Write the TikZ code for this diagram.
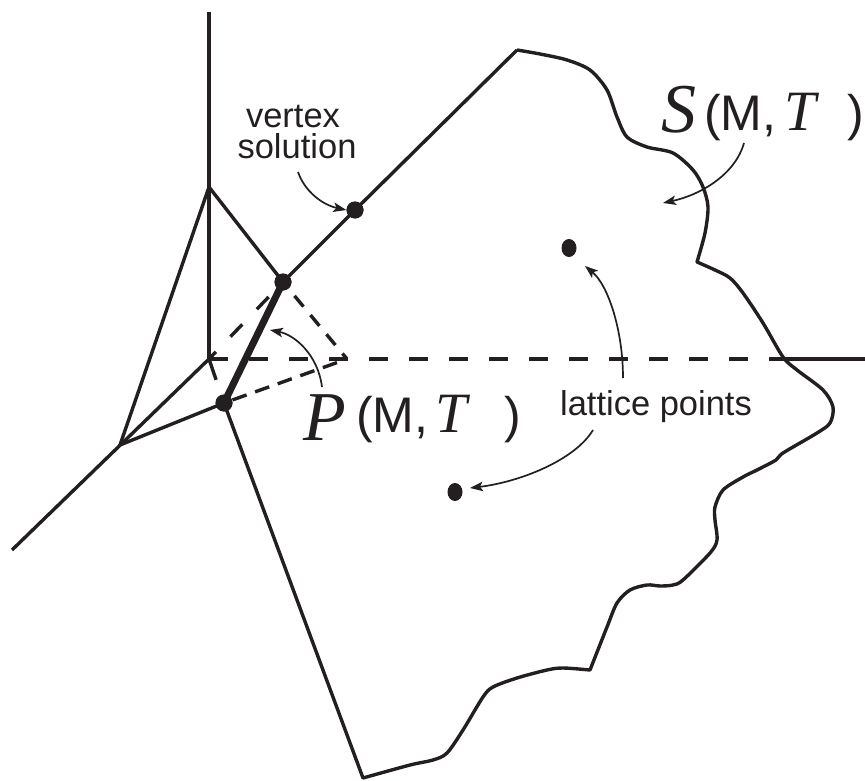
\documentclass[tikz,border=0pt]{standalone}
\usepackage{fontspec}
\setmainfont{Liberation Sans}
\newfontfamily\tmsfont{Liberation Serif}
\usetikzlibrary{arrows.meta,shapes.geometric}
\definecolor{ink}{RGB}{35,31,32}
\begin{document}
\begin{tikzpicture}[x=1pt,y=-1pt,
  ln/.style={line width=3.4pt, draw=ink},
  thickedge/.style={line width=7pt, draw=ink},
  hid/.style={line width=3.4pt, draw=ink},
  arr/.style={line width=1.7pt, draw=ink, -{Stealth[length=13pt,width=9.5pt,inset=3pt]}},
  dot/.style={circle, fill=ink, inner sep=0pt, minimum size=17pt},
  ldot/.style={ellipse, fill=ink, inner sep=0pt, minimum width=15pt, minimum height=18pt},
  lbl/.style={inner sep=0pt, text=ink, font=\fontsize{34.5}{34.5}\selectfont},
  mlbl/.style={inner sep=0pt, text=ink, font=\fontsize{50}{50}\selectfont},
  biglbl/.style={inner sep=0pt, text=ink, font=\fontsize{70}{70}\selectfont\tmsfont\itshape},
  tlbl/.style={inner sep=0pt, text=ink, font=\fontsize{57}{57}\selectfont\tmsfont\itshape}
]
\useasboundingbox (0,0) rectangle (865,781);

% coordinates
\coordinate (Ztop) at (209,12);
\coordinate (O) at (209,359);
\coordinate (Yend) at (12,550);
\coordinate (C) at (120,445);
\coordinate (A) at (209,187);
\coordinate (F) at (347,359);
\coordinate (Xb) at (783,359);
\coordinate (Xend) at (865,359);
\coordinate (T0) at (517,50);
\coordinate (B0) at (363,778);

% dots (nodes)
\node[dot] (E) at (283,282) {};
\node[dot] (D) at (224,403) {};
\node[dot] (V) at (355,210) {};
\node[ldot] (L1) at (569,248) {};
\node[ldot] (L2) at (455,492) {};

% hidden (dashed) edges
\draw[hid, dash pattern=on 19pt off 21pt] (O) -- (Xb);
\draw[hid, dash pattern=on 22pt off 20pt] (O) -- (D.center);
\draw[hid, dash pattern=on 17pt off 21pt, dash phase=7pt] (O) -- (E.center);
\draw[hid, dash pattern=on 14pt off 11pt, dash phase=7pt] (E.center) -- (F);
\draw[hid, dash pattern=on 15pt off 9pt, dash phase=15pt] (D.center) -- (F);

% axes and solid edges
\draw[ln] (Ztop) -- (O);
\draw[ln] (Yend) -- (O);
\draw[ln] (Xb) -- (Xend);
\draw[ln] (A) -- (C) -- (D.center);
\draw[ln] (A) -- (E.center) -- (V.center) -- (T0);

% wavy boundary of S(M,T)
\draw[ln, line join=round]
  plot[smooth] coordinates {(517,50) (540,54) (567,60) (590,70) (607,90) (617,117) (627,137) (647,147) (673,153) (693,170) (703,187) (708,207) (705,233) (697,262)}
  -- plot[smooth] coordinates {(697,262) (715,270) (730,278) (743,293) (763,323) (783,357) (797,370) (823,390) (833,407) (830,423) (817,433) (783,453) (776,460) (757,470) (743,477) (723,490) (715,507) (715,520) (717,540) (710,553) (683,580) (673,585) (660,586) (647,585) (630,590) (617,603) (607,627) (590,670)}
  -- plot[smooth] coordinates {(590,670) (563,668) (547,670) (517,678) (493,687) (483,697) (463,730) (447,753) (433,760) (410,765) (363,778)}
  -- (D.center);

% thick edge P(M,T)
\draw[thickedge] (D.center) -- (E.center);

% redraw dots on top
\fill[ink] (E) circle (8.5pt);
\fill[ink] (D) circle (8.5pt);
\fill[ink] (V) circle (8.5pt);

% labels
\node[lbl, anchor=base] (vx) at (293,128) {vertex};
\node[lbl, anchor=base] (sol) at (297,159) {solution};
\node[lbl, anchor=base] (lat) at (656,415) {lattice points};

\node[biglbl, anchor=base west] (S) at (661,133) {S};
\node[mlbl, anchor=base west] (SM) at (704,131) {(M,};
\node[tlbl, anchor=base west] (ST) at (784,131) {T};
\node[mlbl, anchor=base west] (SR) at (847,131) {)};

\node[biglbl, anchor=base west] (P) at (303,440) {P};
\node[mlbl, anchor=base west] (PM) at (356,432) {(M,};
\node[tlbl, anchor=base west] (PT) at (435,432) {T};
\node[mlbl, anchor=base west] (PR) at (504,432) {)};

% arrows
\coordinate (vsA) at (298,172);
\coordinate (sA) at (744,143);
\coordinate (sB) at (663,203);
\coordinate (pA) at (322,387);
\coordinate (pB) at (270,330);
\coordinate (l1A) at (623,378);
\coordinate (l1B) at (585,266);
\coordinate (l2A) at (593,430);
\coordinate (l2B) at (470,488);

\draw[arr] (vsA) .. controls (305,192) and (323,205) .. (V.west);
\draw[arr] (sA) .. controls (735,175) and (700,195) .. (sB);
\draw[arr] (pA) .. controls (318,355) and (295,335) .. (pB);
\draw[arr] (l1A) .. controls (623,330) and (608,285) .. (l1B);
\draw[arr] (l2A) .. controls (575,460) and (520,482) .. (l2B);
\end{tikzpicture}
\end{document}
